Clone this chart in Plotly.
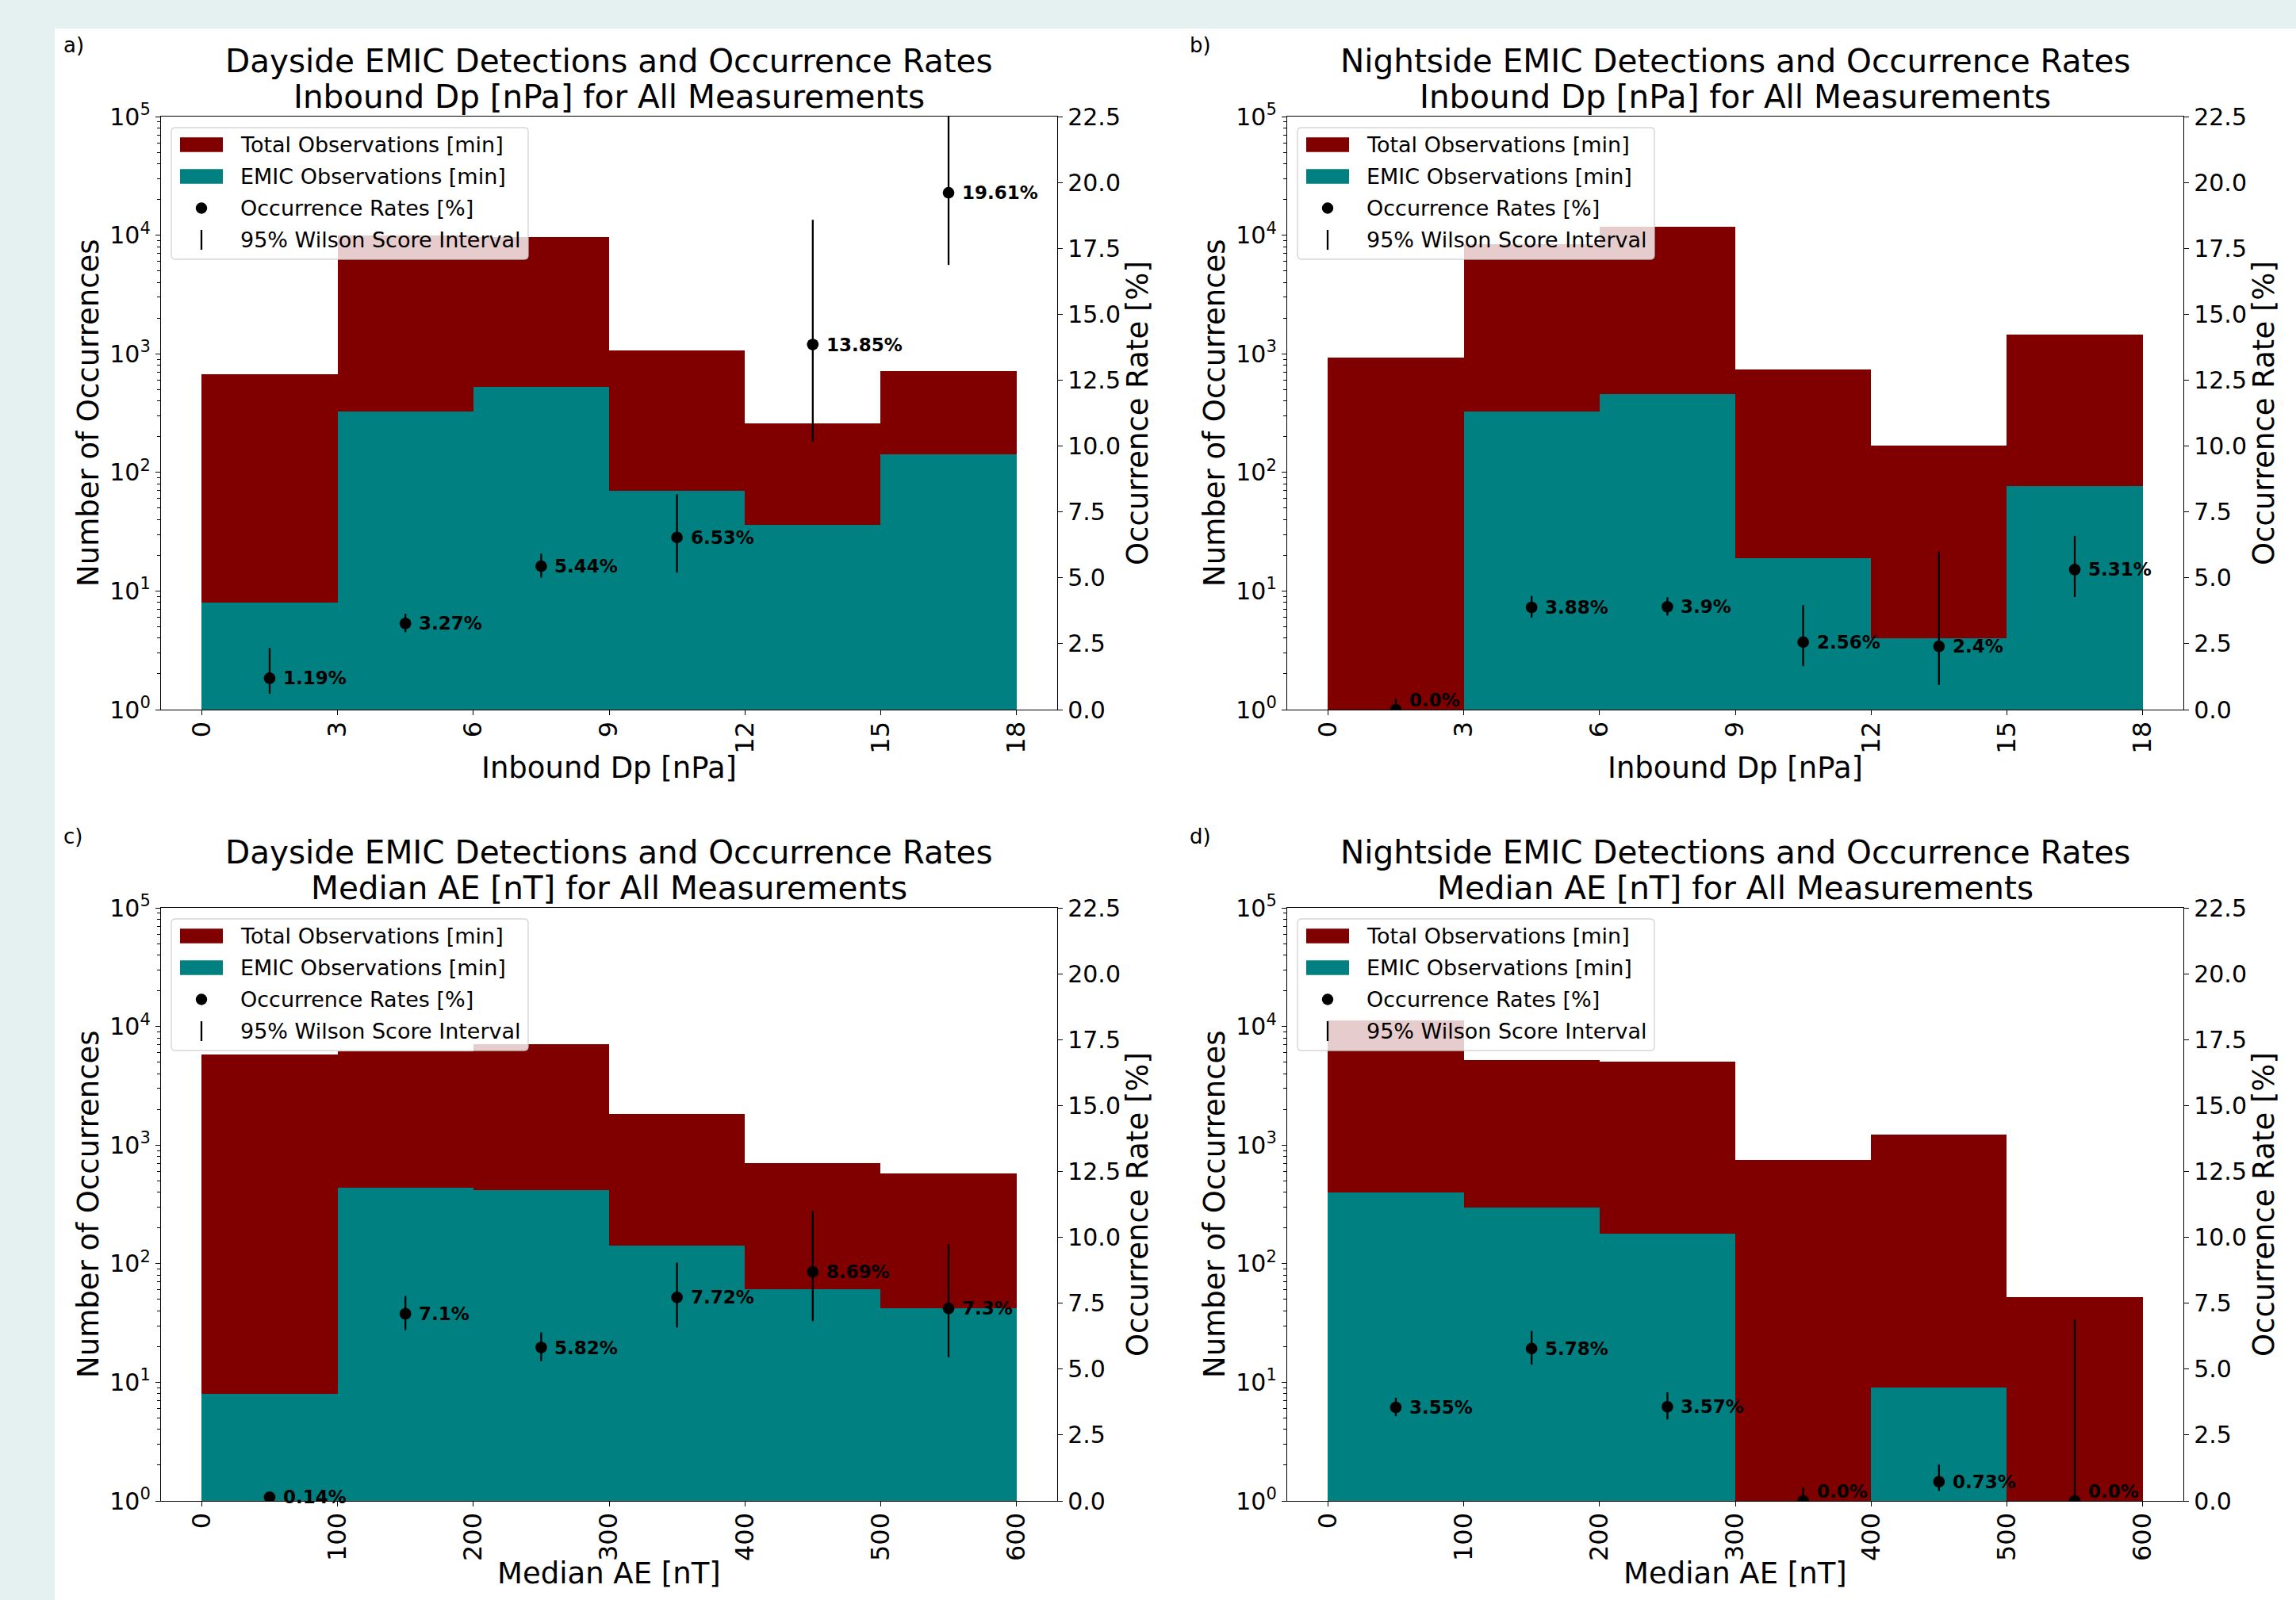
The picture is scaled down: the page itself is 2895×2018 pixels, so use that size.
import plotly.graph_objects as go

W, H = 2895, 2018

# ---------------- data ----------------
dp_edges = [0, 3, 6, 9, 12, 15, 18]
ae_edges = [0, 100, 200, 300, 400, 500, 600]

a_total = [673, 9970, 9690, 1072, 260, 719]
a_emic = [8, 326, 527, 70, 36, 141]
a_rate = [1.19, 3.27, 5.44, 6.53, 13.85, 19.61]
a_low = [0.60, 2.94, 5.01, 5.20, 10.17, 16.87]
a_high = [2.33, 3.64, 5.91, 8.17, 18.58, 22.67]

b_total = [922, 8400, 11795, 742, 167, 1450]
b_emic = [0, 326, 460, 19, 4, 77]
b_rate = [0.0, 3.88, 3.9, 2.56, 2.4, 5.31]
b_low = [0.0, 3.49, 3.57, 1.65, 0.94, 4.27]
b_high = [0.41, 4.31, 4.26, 3.96, 6.00, 6.59]

c_total = [5800, 6140, 7130, 1826, 702, 575]
c_emic = [8, 436, 415, 141, 61, 42]
c_rate = [0.14, 7.1, 5.82, 7.72, 8.69, 7.3]
c_low = [0.07, 6.48, 5.30, 6.58, 6.82, 5.45]
c_high = [0.27, 7.77, 6.39, 9.04, 11.00, 9.73]

d_total = [11240, 5175, 5042, 748, 1233, 52]
d_emic = [399, 299, 180, 0, 9, 0]
d_rate = [3.55, 5.78, 3.57, 0.0, 0.73, 0.0]
d_low = [3.22, 5.17, 3.09, 0.0, 0.38, 0.0]
d_high = [3.91, 6.45, 4.12, 0.51, 1.38, 6.88]

day_title = "Dayside EMIC Detections and Occurrence Rates"
night_title = "Nightside EMIC Detections and Occurrence Rates"
dp_sub = "Inbound Dp [nPa] for All Measurements"
ae_sub = "Median AE [nT] for All Measurements"
dp_label = "Inbound Dp [nPa]"
ae_label = "Median AE [nT]"
y_left_label = "Number of Occurrences"
y_right_label = "Occurrence Rate [%]"
legend_labels = ["Total Observations [min]", "EMIC Observations [min]",
                 "Occurrence Rates [%]", "95% Wilson Score Interval"]
log_tickvals = [1, 10, 100, 1000, 10000, 100000]
log_ticktext = ["10<sup>0</sup>", "10<sup>1</sup>", "10<sup>2</sup>",
                "10<sup>3</sup>", "10<sup>4</sup>", "10<sup>5</sup>"]
rate_ticks = [0, 2.5, 5, 7.5, 10, 12.5, 15, 17.5, 20, 22.5]

TOTAL_C = "#800000"
EMIC_C = "#008080"
FONT = "DejaVu Sans"

panels = [
    dict(letter="a)", title=day_title, sub=dp_sub, xlabel=dp_label, edges=dp_edges,
         total=a_total, emic=a_emic, rate=a_rate, low=a_low, high=a_high,
         box=(203, 1333, 147, 895), xlab_off=73),
    dict(letter="b)", title=night_title, sub=dp_sub, xlabel=dp_label, edges=dp_edges,
         total=b_total, emic=b_emic, rate=b_rate, low=b_low, high=b_high,
         box=(1623, 2753, 147, 895), xlab_off=73),
    dict(letter="c)", title=day_title, sub=ae_sub, xlabel=ae_label, edges=ae_edges,
         total=c_total, emic=c_emic, rate=c_rate, low=c_low, high=c_high,
         box=(203, 1333, 1145, 1893), xlab_off=91),
    dict(letter="d)", title=night_title, sub=ae_sub, xlabel=ae_label, edges=ae_edges,
         total=d_total, emic=d_emic, rate=d_rate, low=d_low, high=d_high,
         box=(1623, 2753, 1145, 1893), xlab_off=91),
]


def fx(px):
    return px / W


def fy(py):
    return 1 - py / H


fig = go.Figure()
annotations = []
shapes = [dict(type="rect", xref="paper", yref="paper", x0=fx(69), x1=1, y0=0, y1=fy(36),
               fillcolor="white", line=dict(width=0), layer="below")]
layout_axes = {}

axis_line = dict(showline=True, linecolor="black", linewidth=1.4, ticks="outside",
                 ticklen=6, tickwidth=1.4, tickcolor="black", showgrid=False,
                 zeroline=False, automargin=False)

for i, p in enumerate(panels, start=1):
    xn = "" if i == 1 else str(i)
    yn = "" if i == 1 else str(i)
    y2n = str(i + 4)
    x0p, x1p, t, b = p["box"]
    edges = p["edges"]
    centers = [(edges[k] + edges[k + 1]) / 2 for k in range(len(edges) - 1)]
    widths = [edges[k + 1] - edges[k] for k in range(len(edges) - 1)]
    span = edges[-1] - edges[0]

    fig.add_trace(go.Bar(x=centers, y=p["total"], width=widths, marker_color=TOTAL_C,
                         marker_line_width=0, xaxis="x" + xn, yaxis="y" + yn,
                         showlegend=False, name=legend_labels[0]))
    fig.add_trace(go.Bar(x=centers, y=[v if v > 0 else None for v in p["emic"]],
                         width=widths, marker_color=EMIC_C, marker_line_width=0,
                         xaxis="x" + xn, yaxis="y" + yn, showlegend=False,
                         name=legend_labels[1]))
    fig.add_trace(go.Scatter(
        x=centers, y=p["rate"], mode="markers", xaxis="x" + xn, yaxis="y" + y2n,
        marker=dict(color="black", size=14.7, line=dict(width=0)),
        error_y=dict(type="data", symmetric=False,
                     array=[h - r for h, r in zip(p["high"], p["rate"])],
                     arrayminus=[r - l for r, l in zip(p["rate"], p["low"])],
                     color="black", thickness=2.3, width=0),
        showlegend=False, name=legend_labels[2]))

    dom_x = [fx(x0p), fx(x1p)]
    dom_y = [fy(b), fy(t)]
    layout_axes["xaxis" + xn] = dict(
        domain=dom_x, anchor="y" + yn,
        range=[edges[0] - 0.05 * span, edges[-1] + 0.05 * span],
        tickvals=edges, ticktext=[str(e) for e in edges], tickangle=-90,
        ticklabelstandoff=-5,
        tickfont=dict(size=32, color="black"), mirror=True, **axis_line)
    layout_axes["yaxis" + yn] = dict(
        domain=dom_y, anchor="x" + xn, type="log", range=[0, 5],
        tickvals=log_tickvals, ticktext=log_ticktext,
        tickfont=dict(size=30, color="black"),
        minor=dict(ticks="outside", ticklen=3.5, tickwidth=1.1, tickcolor="black",
                   tickvals=[m * 10 ** e for e in range(5) for m in range(2, 10)]),
        **axis_line)
    layout_axes["yaxis" + y2n] = dict(
        overlaying="y" + yn, anchor="x" + xn, side="right", range=[0, 22.5],
        tickvals=rate_ticks, tickformat=".1f",
        tickfont=dict(size=30, color="black"), **axis_line)

    cx = (x0p + x1p) / 2
    cy = (t + b) / 2
    # titles
    annotations.append(dict(text=p["title"], x=fx(cx), y=fy(t - 70.3), xref="paper",
                            yref="paper", xanchor="center", yanchor="middle",
                            showarrow=False, font=dict(size=40.5, color="black")))
    annotations.append(dict(text=p["sub"], x=fx(cx), y=fy(t - 25.3), xref="paper",
                            yref="paper", xanchor="center", yanchor="middle",
                            showarrow=False, font=dict(size=40.5, color="black")))
    # panel letter
    annotations.append(dict(text=p["letter"], x=fx(x0p - 125), y=fy(t - 90.3),
                            xref="paper", yref="paper", xanchor="left", yanchor="middle",
                            showarrow=False, font=dict(size=26, color="black")))
    # axis labels
    annotations.append(dict(text=p["xlabel"], x=fx(cx), y=fy(b + p["xlab_off"]),
                            xref="paper", yref="paper", xanchor="center",
                            yanchor="middle", showarrow=False,
                            font=dict(size=37, color="black")))
    annotations.append(dict(text=y_left_label, x=fx(x0p - 92), y=fy(cy), xref="paper",
                            yref="paper", xanchor="center", yanchor="middle",
                            textangle=-90, showarrow=False,
                            font=dict(size=37, color="black")))
    annotations.append(dict(text=y_right_label, x=fx(x1p + 101), y=fy(cy), xref="paper",
                            yref="paper", xanchor="center", yanchor="middle",
                            textangle=-90, showarrow=False,
                            font=dict(size=37, color="black")))
    # rate labels
    for xc, r in zip(centers, p["rate"]):
        annotations.append(dict(text=f"<b>{r}%</b>", x=xc, y=r, xref="x" + xn,
                                yref="y" + y2n, xanchor="left", yanchor="middle",
                                xshift=15, yshift=12 if r == 0 else 0,
                                showarrow=False, font=dict(size=23, color="black")))

    # manual legend (matplotlib style)
    lx0, lx1, ly0, ly1 = x0p + 13, x0p + 463, t + 14, t + 180
    rr = 5
    path = (f"M {fx(lx0 + rr)},{fy(ly0)} L {fx(lx1 - rr)},{fy(ly0)} "
            f"Q {fx(lx1)},{fy(ly0)} {fx(lx1)},{fy(ly0 + rr)} "
            f"L {fx(lx1)},{fy(ly1 - rr)} Q {fx(lx1)},{fy(ly1)} {fx(lx1 - rr)},{fy(ly1)} "
            f"L {fx(lx0 + rr)},{fy(ly1)} Q {fx(lx0)},{fy(ly1)} {fx(lx0)},{fy(ly1 - rr)} "
            f"L {fx(lx0)},{fy(ly0 + rr)} Q {fx(lx0)},{fy(ly0)} {fx(lx0 + rr)},{fy(ly0)} Z")
    shapes.append(dict(type="path", path=path, xref="paper", yref="paper",
                       fillcolor="rgba(255,255,255,0.8)",
                       line=dict(color="rgba(204,204,204,0.8)", width=1.4), layer="above"))
    rows = [t + 35.5, t + 75.5, t + 115.5, t + 155.5]
    for col, ry in zip([TOTAL_C, EMIC_C], rows[:2]):
        shapes.append(dict(type="rect", xref="paper", yref="paper",
                           x0=fx(x0p + 24), x1=fx(x0p + 78), y0=fy(ry + 9.3),
                           y1=fy(ry - 9.3), fillcolor=col, line=dict(width=0),
                           layer="above"))
    shapes.append(dict(type="circle", xref="paper", yref="paper",
                       x0=fx(x0p + 51 - 7.2), x1=fx(x0p + 51 + 7.2),
                       y0=fy(rows[2] + 7.2), y1=fy(rows[2] - 7.2),
                       fillcolor="black", line=dict(width=0), layer="above"))
    shapes.append(dict(type="line", xref="paper", yref="paper",
                       x0=fx(x0p + 51), x1=fx(x0p + 51),
                       y0=fy(rows[3] + 12.5), y1=fy(rows[3] - 12.5),
                       line=dict(color="black", width=2.3), layer="above"))
    for lab, ry in zip(legend_labels, rows):
        annotations.append(dict(text=lab, x=fx(x0p + 98), y=fy(ry), xref="paper",
                                yref="paper", xanchor="left", yanchor="middle",
                                showarrow=False, font=dict(size=27, color="black")))

fig.update_layout(
    width=W, height=H, autosize=False,
    margin=dict(l=0, r=0, t=0, b=0, pad=0, autoexpand=False),
    paper_bgcolor="#e5f0f0", plot_bgcolor="white",
    font=dict(family=FONT, color="black"),
    barmode="overlay", bargap=0, showlegend=False,
    annotations=annotations, shapes=shapes, **layout_axes)

fig.write_html(
    "out.html",
    config={"displayModeBar": False},
    post_script="document.documentElement.style.margin='0';"
                "document.body.style.margin='0';"
                "document.body.style.overflow='hidden';")
